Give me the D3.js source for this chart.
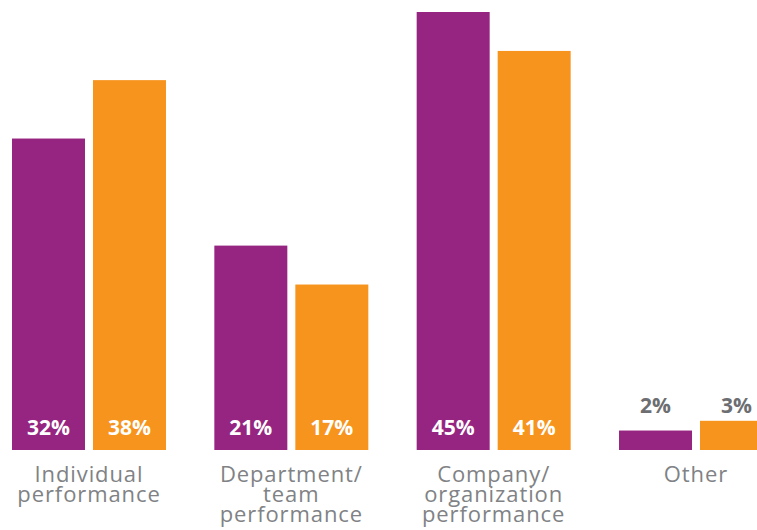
<!DOCTYPE html>
<html>
<head>
<meta charset="utf-8">
<script src="https://cdn.jsdelivr.net/npm/d3@7"></script>
<style>
  html, body { margin: 0; padding: 0; background: #fff; overflow: hidden; }
  svg { display: block; font-family: "Open Sans", "Noto Sans", sans-serif; }
</style>
</head>
<body>
<svg id="chart" width="757" height="530"></svg>
<script>
// Basis of incentive pay: two survey groups per category
const categories = [
  ["Individual", "performance"],
  ["Department/", "team", "performance"],
  ["Company/", "organization", "performance"],
  ["Other"]
];
const seriesNames = ["A", "B"];
const seriesA = [32, 21, 45, 2];
const seriesB = [38, 17, 41, 3];
const colors = ["#952581", "#F7941D"];

const svg = d3.select("#chart");
const baseY = 450;

const x0 = d3.scaleBand()
  .domain(d3.range(categories.length))
  .range([12, 773])
  .paddingInner(0.239)
  .paddingOuter(0);

const x1 = d3.scaleBand()
  .domain(seriesNames)
  .range([0, x0.bandwidth()])
  .paddingInner(0.0988)
  .paddingOuter(0);

const y = d3.scaleLinear().domain([0, 45]).range([baseY, 12]);

const rows = categories.map((c, i) => ({
  i,
  label: c,
  values: [
    { key: "A", v: seriesA[i], color: colors[0] },
    { key: "B", v: seriesB[i], color: colors[1] }
  ]
}));

const groups = svg.selectAll("g.group")
  .data(rows)
  .join("g")
  .attr("class", "group")
  .attr("transform", d => `translate(${x0(d.i)},0)`);

const bars = groups.selectAll("g.bar")
  .data(d => d.values)
  .join("g")
  .attr("class", "bar");

bars.append("rect")
  .attr("x", d => x1(d.key))
  .attr("y", d => y(d.v))
  .attr("width", x1.bandwidth())
  .attr("height", d => baseY - y(d.v))
  .attr("fill", d => d.color);

// Value labels: inside the bar for tall bars, above for short ones
bars.append("text")
  .attr("x", d => x1(d.key) + x1.bandwidth() / 2)
  .attr("y", d => (baseY - y(d.v) > 40 ? 435 : 413))
  .attr("text-anchor", "middle")
  .attr("font-size", 21)
  .attr("font-weight", 700)
  .attr("fill", d => (baseY - y(d.v) > 40 ? "#ffffff" : "#6d6e71"))
  .text(d => d.v + "%");

// Category labels below the bars
groups.append("text")
  .attr("x", x0.bandwidth() / 2)
  .attr("text-anchor", "middle")
  .attr("font-size", 22)
  .attr("letter-spacing", "0.9px")
  .attr("fill", "#808285")
  .selectAll("tspan")
  .data(d => d.label)
  .join("tspan")
  .attr("x", x0.bandwidth() / 2)
  .attr("y", (d, k) => 481.7 + k * 20)
  .text(d => d);
</script>
</body>
</html>
